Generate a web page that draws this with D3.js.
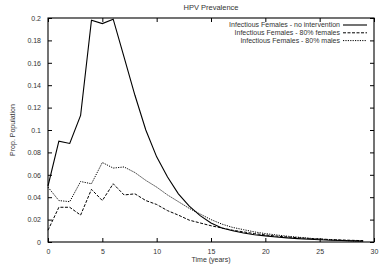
<!DOCTYPE html>
<html>
<head>
<meta charset="utf-8">
<script src="https://cdn.jsdelivr.net/npm/d3@7"></script>
<style>
  body { margin: 0; background: #fff; }
  text { font-family: "Liberation Sans", Arial, sans-serif; fill: #333; }
</style>
</head>
<body>
<div id="chart"></div>
<script>
// data
var years = d3.range(0, 30);
var noIntervention = [0.050, 0.090, 0.088, 0.113, 0.198, 0.195, 0.199, 0.165, 0.131, 0.100,
  0.076, 0.058, 0.043, 0.032, 0.0235, 0.017, 0.0125, 0.010, 0.008, 0.0065,
  0.0055, 0.0045, 0.0037, 0.003, 0.0025, 0.002, 0.0016, 0.0013, 0.001, 0.0008];
var females80 = [0.0105, 0.031, 0.031, 0.024, 0.047, 0.037, 0.052, 0.042, 0.043, 0.037,
  0.0335, 0.028, 0.024, 0.0195, 0.017, 0.0145, 0.0125, 0.0105, 0.009, 0.0075,
  0.0063, 0.0053, 0.0045, 0.0038, 0.0032, 0.0027, 0.0022, 0.0018, 0.0015, 0.0012];
var males80 = [0.049, 0.037, 0.036, 0.054, 0.052, 0.071, 0.066, 0.067, 0.062, 0.055,
  0.049, 0.042, 0.036, 0.030, 0.025, 0.020, 0.016, 0.013, 0.011, 0.009,
  0.0075, 0.0063, 0.0052, 0.0043, 0.0034, 0.0026, 0.002, 0.0015, 0.001, 0.0007];
var seriesNames = ["Infectious Females - no intervention", "Infectious Females - 80% females", "Infectious Females - 80% males"];
var xTicks = [0, 5, 10, 15, 20, 25, 30];
var yTicks = [0, 0.02, 0.04, 0.06, 0.08, 0.1, 0.12, 0.14, 0.16, 0.18, 0.2];

var margin = {top: 18, right: 6, bottom: 27, left: 48},
    width = 380 - margin.left - margin.right,
    height = 269 - margin.top - margin.bottom;

var svg = d3.select("#chart")
  .append("svg")
    .attr("width", 380)
    .attr("height", 269)
  .append("g")
    .attr("transform", "translate(" + margin.left + "," + margin.top + ")");

var x = d3.scaleLinear().domain([0, 30]).range([0, width]);
var y = d3.scaleLinear().domain([0, 0.2]).range([height, 0]);

// axes, gnuplot style: ticks inside, mirrored
var fmtY = function(d) { return d === 0 ? "0" : String(+d.toFixed(2)); };
svg.append("g")
  .attr("transform", "translate(0," + height + ")")
  .call(d3.axisBottom(x).tickValues(xTicks).tickSize(-4).tickPadding(7))
  .call(g => g.select(".domain").remove());
svg.append("g")
  .call(d3.axisTop(x).tickValues(xTicks).tickSize(-4).tickFormat(""))
  .call(g => g.select(".domain").remove());
svg.append("g")
  .call(d3.axisLeft(y).tickValues(yTicks).tickSize(-4).tickPadding(7).tickFormat(fmtY))
  .call(g => g.select(".domain").remove());
svg.append("g")
  .attr("transform", "translate(" + width + ",0)")
  .call(d3.axisRight(y).tickValues(yTicks).tickSize(-4).tickFormat(""))
  .call(g => g.select(".domain").remove());
svg.selectAll(".tick text").style("font-size", "7px").style("fill", "#333")
  .style("font-family", "'Liberation Sans', Arial, sans-serif");
svg.selectAll(".tick line").attr("stroke", "#000");

svg.append("rect")
  .attr("width", width)
  .attr("height", height)
  .attr("fill", "none")
  .attr("stroke", "#000")
  .attr("stroke-width", 1.1);

var styles = [
  {dash: null, w: 1.1},
  {dash: "3,1.5", w: 1},
  {dash: "1.2,1.2", w: 1}
];
var allSeries = [noIntervention, females80, males80];

var line = d3.line()
  .x(function(d, i) { return x(years[i]); })
  .y(function(d) { return y(d); });

allSeries.forEach(function(s, k) {
  svg.append("path")
    .datum(s)
    .attr("fill", "none")
    .attr("stroke", "#000")
    .attr("stroke-width", styles[k].w)
    .attr("stroke-dasharray", styles[k].dash)
    .attr("d", line);
});

// legend
var legend = svg.append("g").attr("transform", "translate(" + (width - 34) + ",7)");
seriesNames.forEach(function(n, k) {
  legend.append("text")
    .attr("x", 0)
    .attr("y", k * 7.8)
    .attr("dy", "0.35em")
    .attr("text-anchor", "end")
    .style("font-size", "7px")
    .text(n);
  legend.append("line")
    .attr("x1", 3).attr("x2", 27)
    .attr("y1", k * 7.8).attr("y2", k * 7.8)
    .attr("stroke", "#000")
    .attr("stroke-width", styles[k].w)
    .attr("stroke-dasharray", styles[k].dash);
});

// title
svg.append("text")
  .attr("x", width / 2)
  .attr("y", -8)
  .attr("text-anchor", "middle")
  .style("font-size", "7.5px")
  .text("HPV Prevalence");

// x label
svg.append("text")
  .attr("x", width / 2)
  .attr("y", height + 20)
  .attr("text-anchor", "middle")
  .style("font-size", "7px")
  .text("Time (years)");

// y label
svg.append("text")
  .attr("transform", "rotate(-90)")
  .attr("x", -height / 2)
  .attr("y", -33)
  .attr("text-anchor", "middle")
  .style("font-size", "7px")
  .text("Prop. Population");
</script>
</body>
</html>
